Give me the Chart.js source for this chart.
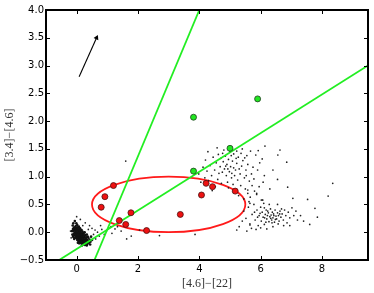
<!DOCTYPE html>
<html>
<head>
<meta charset="utf-8">
<script src="https://cdn.jsdelivr.net/npm/chart.js@4/dist/chart.umd.min.js"></script>
<style>
  html, body { margin: 0; padding: 0; background: #fff; }
  #wrap { width: 374px; height: 293px; }
</style>
</head>
<body>
<div id="wrap"><canvas id="chart" width="374" height="293"></canvas></div>
<script>
// Axis ticks
const xTicks = [0, 2, 4, 6, 8];
const yTicks = [-0.5, 0, 0.5, 1, 1.5, 2, 2.5, 3, 3.5, 4];

// Red sources (inside the ellipse region)
const redPoints = [
  [0.8, 0.45], [0.92, 0.64], [1.2, 0.84], [1.39, 0.21], [1.6, 0.14], [1.77, 0.35],
  [2.28, 0.03], [3.38, 0.32], [4.07, 0.67], [4.22, 0.88], [4.43, 0.82], [5.17, 0.74]
];

// Green sources
const greenPoints = [[3.81, 2.07], [5.9, 2.4], [5.0, 1.51], [3.81, 1.1]];

// Green dividing lines (end points)
const steepLine = [[0.58, -0.5], [4.0, 4.0]];
const shallowLine = [[-0.57, -0.5], [9.5, 3.0]];

// Reddening arrow
const arrowLine = [[0.08, 2.8], [0.65, 3.5]];

// Red ellipse: centre and semi-axes in data units
const ellipseCenter = [3.0, 0.5];
const ellipseRadii = [2.5, 0.5];

// Background field sources
const nearOrigin = [
  [-0.12, 0.06], [-0.1, 0.02], [-0.09, -0.03], [-0.08, 0.09], [-0.07, 0.04], [-0.06, -0.01],
  [-0.05, 0.07], [-0.05, -0.06], [-0.04, 0.02], [-0.03, 0.11], [-0.03, -0.03], [-0.02, 0.05],
  [-0.02, -0.08], [-0.01, 0.0], [0.0, 0.08], [0.0, -0.05], [0.01, 0.03], [0.01, -0.1],
  [0.02, -0.02], [0.02, 0.13], [0.03, -0.07], [0.03, 0.05], [0.04, -0.12], [0.04, 0.0],
  [0.05, -0.04], [0.05, 0.09], [0.06, -0.09], [0.06, 0.02], [0.07, -0.14], [0.07, -0.01],
  [0.08, -0.06], [0.08, 0.05], [0.09, -0.11], [0.09, -0.03], [0.1, -0.16], [0.1, 0.0],
  [0.11, -0.08], [0.11, -0.13], [0.12, -0.04], [0.12, -0.18], [0.13, -0.1], [0.13, 0.02],
  [0.14, -0.15], [0.14, -0.06], [0.15, -0.12], [0.15, -0.2], [0.16, -0.08], [0.16, -0.02],
  [0.17, -0.16], [0.17, -0.11], [0.18, -0.05], [0.18, -0.19], [0.19, -0.13], [0.2, -0.09],
  [0.2, -0.17], [0.21, -0.03], [0.22, -0.14], [0.22, -0.2], [0.23, -0.1], [0.24, -0.16],
  [0.25, -0.07], [0.25, -0.21], [0.26, -0.13], [0.27, -0.18], [0.28, -0.1], [0.29, -0.15],
  [0.3, -0.2], [0.31, -0.12], [0.32, -0.17], [0.34, -0.14], [0.35, -0.21], [0.37, -0.16],
  [0.38, -0.1], [0.4, -0.19], [0.42, -0.13], [0.45, -0.17], [0.47, -0.08], [0.5, -0.14],
  [-0.14, -0.04], [-0.13, 0.12], [-0.11, 0.16], [-0.06, 0.2], [-0.1, -0.09], [0.06, -0.17],
  [0.02, -0.14], [0.09, 0.04], [-0.01, 0.16], [0.11, 0.07], [0.19, 0.01], [0.24, -0.01],
  [0.29, -0.05], [0.33, -0.04], [0.36, -0.08], [0.14, -0.17], [0.21, -0.22], [0.27, -0.23],
  [0.08, -0.2], [0.0, -0.11], [-0.04, -0.1], [0.04, 0.08], [0.12, -0.01], [0.18, -0.07],
  [0.23, -0.05], [0.1, -0.05], [0.06, -0.06], [0.15, -0.04], [0.2, -0.12], [0.26, -0.16],
  [0.31, -0.09], [0.03, -0.04], [-0.08, -0.12], [0.04, -0.19], [0.17, -0.24], [0.33, -0.24],
  [0.44, -0.22], [-0.15, 0.02], [-0.12, -0.07], [0.07, 0.1], [0.16, 0.04], [0.26, 0.0]
];

const sparseLow = [
  [0.0, 0.28], [0.12, 0.23], [0.28, 0.17], [0.42, 0.12], [0.5, 0.07], [0.6, 0.04],
  [0.55, -0.04], [0.68, 0.0], [0.62, -0.12], [0.74, -0.07], [0.82, 0.05], [0.9, -0.04],
  [0.97, 0.02], [1.05, 0.08], [1.15, -0.02], [1.25, 0.06], [1.33, 0.1], [1.45, 0.02],
  [1.63, -0.12], [1.78, -0.07], [1.6, 1.28], [2.05, 0.04], [2.7, -0.06], [3.86, -0.04],
  [-0.2, 0.02], [-0.18, -0.1], [0.38, 0.05], [0.2, 0.12], [1.12, 0.1], [0.78, 0.12]
];

const upperCloud = [
  [4.62, 1.4], [4.7, 1.33], [4.78, 1.27], [4.85, 1.37], [4.9, 1.22], [4.95, 1.31],
  [5.02, 1.18], [5.08, 1.28], [5.12, 1.41], [5.18, 1.12], [5.22, 1.24], [5.27, 1.35],
  [5.33, 1.05], [5.38, 1.19], [5.42, 1.29], [5.47, 0.98], [5.52, 1.12], [5.58, 1.22],
  [5.63, 0.92], [5.7, 1.05], [5.75, 1.17], [4.68, 1.18], [4.75, 1.08], [4.82, 1.14],
  [4.88, 1.02], [4.98, 1.09], [5.05, 0.98], [5.15, 1.02], [5.25, 0.94], [5.3, 1.14],
  [4.55, 1.25], [4.5, 1.12], [4.45, 1.35], [4.4, 1.02], [4.35, 1.2], [4.3, 0.93],
  [4.25, 1.1], [4.18, 0.98], [4.12, 1.17], [4.05, 0.9], [3.98, 1.05], [4.6, 0.95],
  [4.72, 0.88], [4.92, 0.9], [5.1, 0.86], [5.35, 0.84], [5.5, 0.78], [5.58, 0.7],
  [5.66, 0.63], [5.8, 0.74], [5.87, 0.68], [5.95, 0.82], [6.02, 0.58], [6.08, 0.9],
  [6.12, 1.02], [5.9, 1.12], [5.97, 1.25], [6.05, 1.32], [5.84, 1.39], [5.92, 1.47],
  [6.14, 1.55], [6.63, 1.48], [6.56, 1.39], [6.85, 1.26], [6.4, 1.12], [6.88, 0.81],
  [7.05, 0.61], [6.3, 0.78], [6.55, 0.95], [5.22, 1.46], [5.4, 1.5], [5.55, 1.38],
  [5.67, 1.46], [5.0, 1.45], [4.8, 1.48], [4.58, 1.52], [4.52, 0.82], [4.42, 0.75],
  [4.28, 1.45], [4.2, 1.3], [4.95, 0.8], [5.15, 0.72], [5.28, 0.66], [5.45, 0.6],
  [5.62, 0.55], [5.72, 0.84], [5.78, 0.96], [5.53, 1.02], [5.04, 1.38], [4.86, 1.19],
  [5.2, 1.33], [5.36, 1.42], [5.48, 1.34], [4.64, 1.06], [4.76, 1.42], [5.12, 1.16],
  [5.06, 1.06], [4.93, 1.14]
];

const lowerCloud = [
  [5.45, 0.38], [5.52, 0.25], [5.6, 0.45], [5.65, 0.15], [5.72, 0.32], [5.78, 0.5],
  [5.82, 0.22], [5.88, 0.4], [5.92, 0.12], [5.95, 0.3], [6.0, 0.45], [6.02, 0.2],
  [6.05, 0.36], [6.08, 0.27], [6.1, 0.52], [6.12, 0.14], [6.15, 0.32], [6.18, 0.4],
  [6.2, 0.24], [6.22, 0.3], [6.25, 0.35], [6.27, 0.19], [6.3, 0.28], [6.32, 0.42],
  [6.34, 0.31], [6.36, 0.22], [6.38, 0.36], [6.4, 0.26], [6.42, 0.33], [6.45, 0.18],
  [6.47, 0.4], [6.5, 0.29], [6.52, 0.24], [6.55, 0.35], [6.58, 0.3], [6.6, 0.2],
  [6.63, 0.38], [6.66, 0.27], [6.7, 0.33], [6.74, 0.22], [6.78, 0.4], [6.82, 0.3],
  [6.86, 0.17], [6.9, 0.36], [6.95, 0.26], [7.02, 0.44], [7.08, 0.3], [7.15, 0.38],
  [7.2, 0.22], [6.0, 0.08], [6.2, 0.06], [6.4, 0.1], [5.85, 0.05], [5.7, 0.07],
  [6.28, 0.5], [6.05, 0.58], [6.55, 0.5], [5.98, 0.34], [6.13, 0.26], [6.23, 0.38],
  [6.33, 0.25], [6.43, 0.3], [6.48, 0.23], [6.62, 0.33], [6.12, 0.44], [5.9, 0.27],
  [5.8, 0.36], [6.68, 0.42], [6.37, 0.17], [6.17, 0.18], [6.57, 0.15], [6.75, 0.12],
  [7.3, 0.3], [7.53, 0.59], [7.77, 0.43], [7.85, 0.27], [8.2, 0.65], [8.35, 0.88],
  [7.4, 0.2], [5.58, 0.76], [5.87, 0.7], [6.07, 0.58], [5.65, 0.52], [5.22, 0.04],
  [5.55, 0.02], [5.65, 0.13], [5.3, 0.1], [5.4, 0.2], [6.95, 0.12], [7.6, 0.14]
];

const toXY = arr => arr.map(([x, y]) => ({ x, y }));

// Ellipse drawn under the datasets, sized through the scales
const ellipsePlugin = {
  id: 'ellipse',
  beforeDatasetsDraw(chart) {
    const { ctx, chartArea: a, scales: { x, y } } = chart;
    const cx = x.getPixelForValue(ellipseCenter[0]);
    const cy = y.getPixelForValue(ellipseCenter[1]);
    const rx = x.getPixelForValue(ellipseCenter[0] + ellipseRadii[0]) - cx;
    const ry = cy - y.getPixelForValue(ellipseCenter[1] + ellipseRadii[1]);
    ctx.save();
    ctx.beginPath();
    ctx.rect(a.left, a.top, a.right - a.left, a.bottom - a.top);
    ctx.clip();
    ctx.beginPath();
    ctx.ellipse(cx, cy, rx, ry, 0, 0, Math.PI * 2);
    ctx.strokeStyle = '#ff1a1a';
    ctx.lineWidth = 1.8;
    ctx.stroke();
    ctx.restore();
  }
};

// Matplotlib-style frame with inward ticks on all four sides
const framePlugin = {
  id: 'frame',
  afterDraw(chart) {
    const { ctx, chartArea: a, scales: { x, y } } = chart;
    const len = 4;
    ctx.save();
    ctx.strokeStyle = '#000';
    ctx.lineWidth = 1;
    ctx.beginPath();
    xTicks.forEach(v => {
      const px = Math.round(x.getPixelForValue(v)) + 0.5;
      ctx.moveTo(px, a.bottom); ctx.lineTo(px, a.bottom - len);
      ctx.moveTo(px, a.top); ctx.lineTo(px, a.top + len);
    });
    yTicks.forEach(v => {
      const py = Math.round(y.getPixelForValue(v)) + 0.5;
      ctx.moveTo(a.left, py); ctx.lineTo(a.left + len, py);
      ctx.moveTo(a.right, py); ctx.lineTo(a.right - len, py);
    });
    ctx.stroke();
    ctx.lineWidth = 2;
    ctx.strokeRect(a.left, a.top, a.right - a.left, a.bottom - a.top);
    ctx.restore();
  }
};

const dotStyle = {
  type: 'scatter',
  pointRadius: 0.85,
  pointHoverRadius: 0.85,
  pointBorderWidth: 0,
  pointBackgroundColor: '#222',
  order: 4
};

new Chart(document.getElementById('chart'), {
  type: 'scatter',
  plugins: [ellipsePlugin, framePlugin],
  data: {
    datasets: [
      {
        label: 'green',
        data: toXY(greenPoints),
        pointRadius: 3,
        pointBorderWidth: 0.8,
        pointBorderColor: '#1f3f1f',
        pointBackgroundColor: '#22e622',
        order: 0
      },
      {
        label: 'red',
        data: toXY(redPoints),
        pointRadius: 3,
        pointBorderWidth: 0.8,
        pointBorderColor: '#4a1010',
        pointBackgroundColor: '#ee1111',
        order: 1
      },
      {
        label: 'steep',
        data: toXY(steepLine),
        showLine: true,
        borderColor: '#22ee22',
        borderWidth: 1.8,
        pointRadius: 0,
        order: 2
      },
      {
        label: 'shallow',
        data: toXY(shallowLine),
        showLine: true,
        borderColor: '#22ee22',
        borderWidth: 1.8,
        pointRadius: 0,
        order: 2
      },
      {
        label: 'arrow',
        data: toXY(arrowLine),
        showLine: true,
        borderColor: '#000',
        borderWidth: 1.1,
        pointStyle: 'triangle',
        pointRadius: [0, 3],
        pointRotation: 25,
        pointBorderWidth: 0,
        pointBackgroundColor: '#000',
        order: 3
      },
      { ...dotStyle, label: 'origin', data: toXY(nearOrigin), pointRadius: 1.3, pointBackgroundColor: '#111' },
      { ...dotStyle, label: 'low', data: toXY(sparseLow) },
      { ...dotStyle, label: 'upper', data: toXY(upperCloud) },
      { ...dotStyle, label: 'lower', data: toXY(lowerCloud) }
    ]
  },
  options: {
    responsive: false,
    animation: false,
    devicePixelRatio: 1,
    layout: { padding: { top: 10, right: 6, left: 0, bottom: 0 } },
    plugins: {
      legend: { display: false },
      tooltip: { enabled: false }
    },
    scales: {
      x: {
        type: 'linear',
        min: -1,
        max: 9.5,
        afterBuildTicks: s => { s.ticks = xTicks.map(v => ({ value: v })); },
        afterFit: s => { s.height = 33; },
        grid: { display: false, drawTicks: false },
        border: { display: false },
        ticks: {
          color: '#000',
          padding: 3,
          maxRotation: 0,
          font: { family: "'DejaVu Sans', sans-serif", size: 10 },
          callback: v => String(v)
        },
        title: {
          display: true,
          text: '[4.6]\u2212[22]',
          color: '#333',
          font: { family: "'Liberation Serif', serif", size: 12 },
          padding: { top: 0, bottom: 2 }
        }
      },
      y: {
        type: 'linear',
        min: -0.5,
        max: 4,
        afterBuildTicks: s => { s.ticks = yTicks.map(v => ({ value: v })); },
        afterFit: s => { s.width = 46; },
        grid: { display: false, drawTicks: false },
        border: { display: false },
        ticks: {
          color: '#000',
          padding: 2,
          font: { family: "'DejaVu Sans', sans-serif", size: 10 },
          callback: v => (v < 0 ? '\u2212' : '') + Math.abs(v).toFixed(1)
        },
        title: {
          display: true,
          text: '[3.4]\u2212[4.6]',
          color: '#333',
          font: { family: "'Liberation Serif', serif", size: 12 },
          padding: { top: 3, bottom: 0 }
        }
      }
    }
  }
});
</script>
</body>
</html>
